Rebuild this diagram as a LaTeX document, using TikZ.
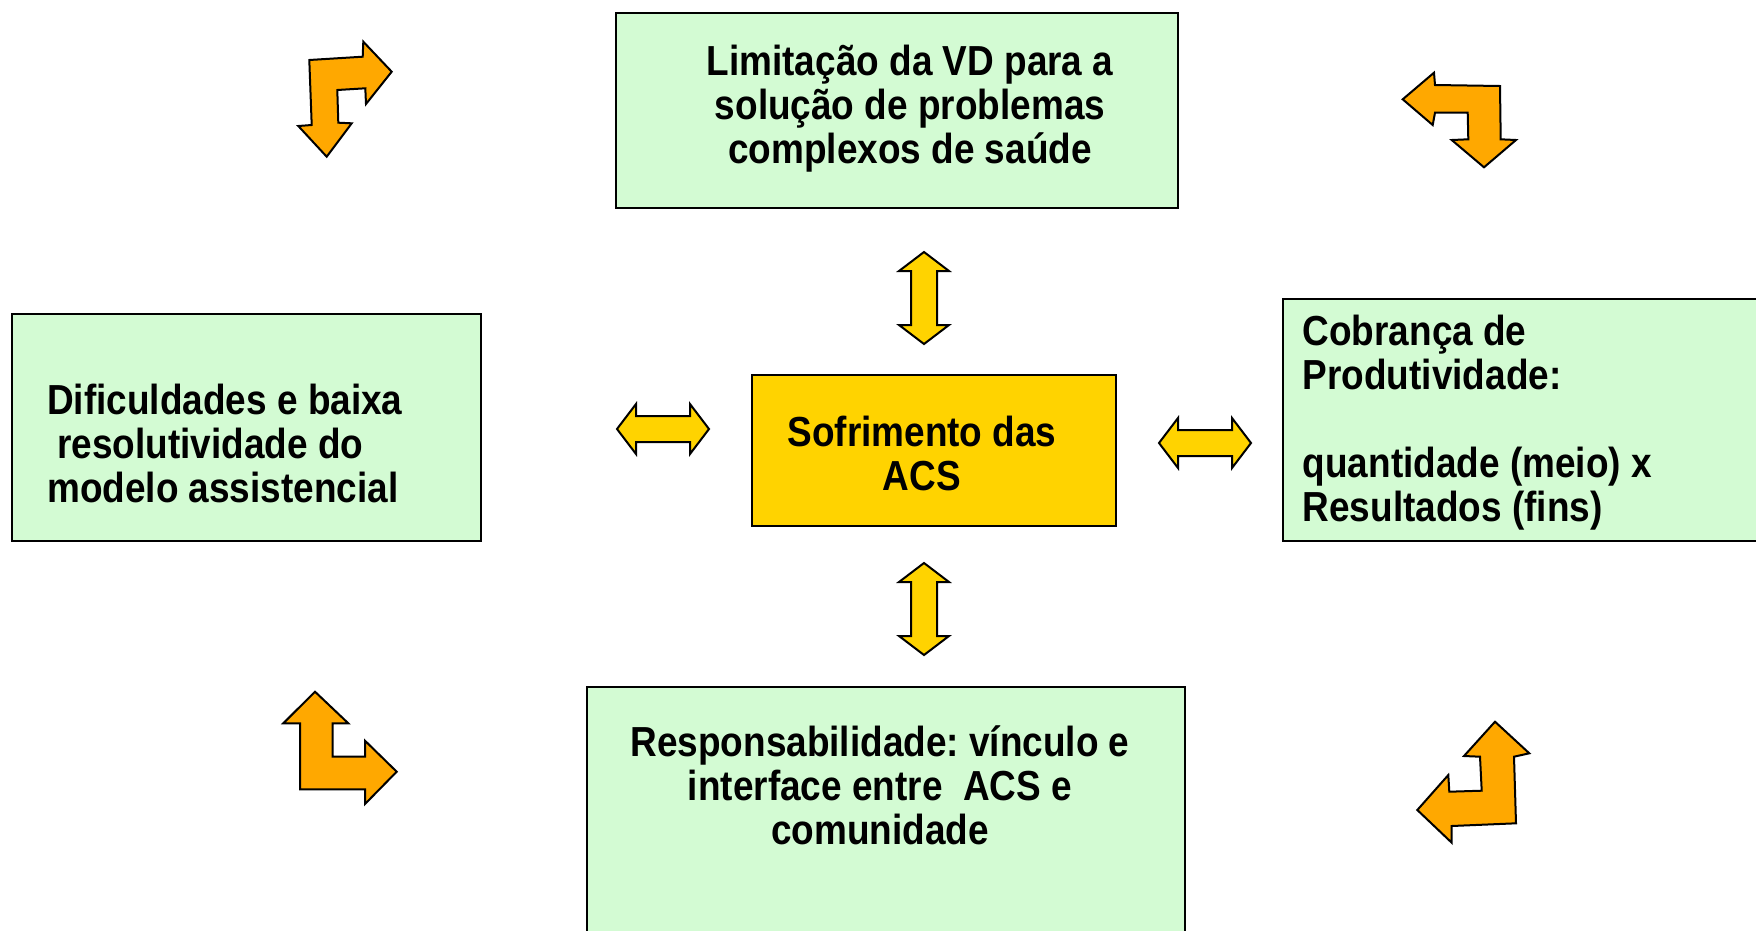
\documentclass[tikz,border=0pt]{standalone}
\usepackage{fontspec}
\setmainfont{Liberation Sans}[FakeStretch=0.88]
\frenchspacing
\usetikzlibrary{calc}
\definecolor{boxgreen}{RGB}{211,251,211}
\definecolor{boxgold}{RGB}{255,211,0}
\definecolor{bentorange}{RGB}{255,168,0}
\tikzstyle{greenbox}=[draw=black,line width=2pt,fill=boxgreen,inner sep=0pt,anchor=north west]
\tikzstyle{goldbox}=[greenbox,fill=boxgold]
\tikzstyle{boxtext}=[inner sep=0pt,font=\fontsize{42}{44}\selectfont\bfseries]
\tikzstyle{bent}=[draw=black,line width=2pt,fill=bentorange,line join=miter]
\tikzset{dblarrow/.pic={
  \draw[line width=2pt,fill=boxgold]
    (-46,0) -- (-27,-25) -- (-27,-13) -- (27,-13) -- (27,-25) -- (46,0)
    -- (27,25) -- (27,13) -- (-27,13) -- (-27,25) -- cycle;
}}

\begin{document}
\begin{tikzpicture}[x=1pt,y=-1pt]
  \useasboundingbox (0,0) rectangle (1756,930);
  \clip (0,0) rectangle (1756,930);
  % boxes
  \node(lim)[greenbox,minimum width=562,minimum height=195] at (615,12) {};
  \node(dif)[greenbox,minimum width=469,minimum height=227] at (11,313) {};
  \node(sof)[goldbox,minimum width=364,minimum height=151] at (751,374) {};
  \node(cob)[greenbox,minimum width=520,minimum height=242] at (1282,298) {};
  \node(resp)[greenbox,minimum width=598,minimum height=300] at (586,686) {};
  % texts
  \node(limtext)[boxtext,align=center] at (910,109)
    {Limitação da VD para a\\solução de problemas\\complexos de saúde};
  \node(diftext)[boxtext,align=left,anchor=west] at (47,443.5)
    {Dificuldades e baixa\\\hspace*{10pt}resolutividade do\\modelo assistencial};
  \node(softext)[boxtext,align=center] at (922,453)
    {Sofrimento das\\ACS};
  \node(cobtext)[boxtext,align=left,anchor=west] at (1302.5,423)
    {Cobrança de\\Produtividade:\\[44pt]quantidade (meio) x\\Resultados (fins)};
  \node(resptext)[boxtext,align=center] at (880,785.5)
    {Responsabilidade: vínculo e\\interface entre~~ACS e\\comunidade};
  % double arrows
  \pic at (663,429) {dblarrow};
  \pic at (1205,443) {dblarrow};
  \pic[rotate=90] at (924,298) {dblarrow};
  \pic[rotate=90] at (924,609) {dblarrow};
  % bent arrows in the corners
  \draw[bent] (309.3,60) -- (362.7,56.7) -- (363.3,41.7) -- (391.7,71.7) -- (366,104)
    -- (365.3,88.3) -- (337.3,90) -- (338.3,122.7) -- (351.7,123.3) -- (326.7,156.7)
    -- (298.3,126) -- (311.7,125) -- cycle;
  \draw[bent] (1402.7,99.3) -- (1434,72.7) -- (1435,85) -- (1500,86) -- (1500.7,139.3)
    -- (1516,140) -- (1484,167.3) -- (1451.7,140) -- (1468.3,139.3) -- (1467.7,112.7)
    -- (1435,112.7) -- (1432.7,125) -- cycle;
  \draw[bent] (315,691.7) -- (348.3,723.3) -- (332.7,723.3) -- (332.7,756.7) -- (365,756.7)
    -- (365,740.7) -- (396.7,771.7) -- (365,804) -- (365,789.3) -- (300,789.3)
    -- (300,723.3) -- (283.3,723.3) -- cycle;
  \draw[bent] (1495,721.7) -- (1529.3,753.3) -- (1514,756.7) -- (1516,823.3) -- (1451.7,826)
    -- (1451.7,842.7) -- (1417.3,810) -- (1448.3,775) -- (1449.3,791.7) -- (1481.7,790.7)
    -- (1480,756.7) -- (1464,756) -- cycle;
\end{tikzpicture}
\end{document}
